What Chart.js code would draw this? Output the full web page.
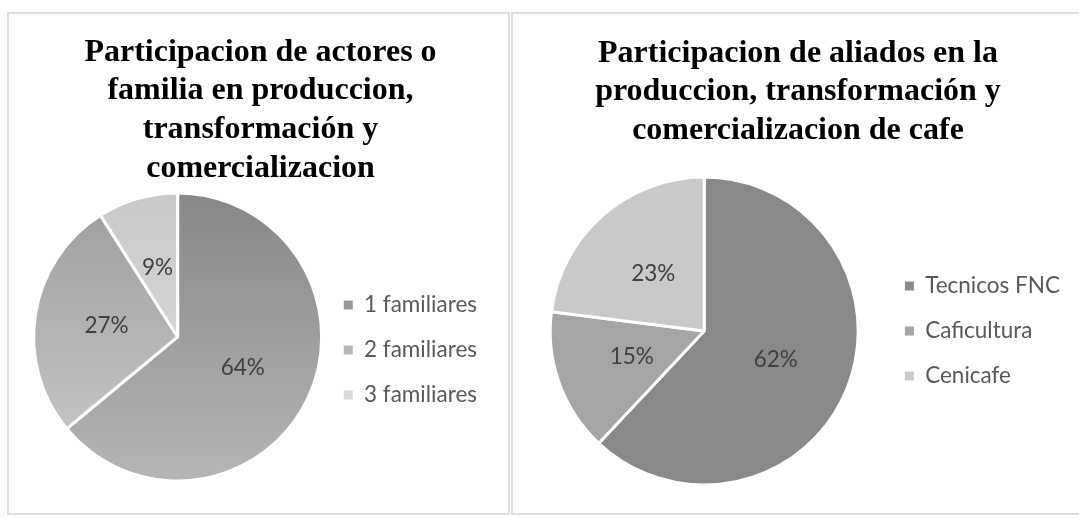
<!DOCTYPE html>
<html>
<head>
<meta charset="utf-8">
<script src="https://cdn.jsdelivr.net/npm/chart.js@4.4.1/dist/chart.umd.min.js"></script>
<style>
  html, body { margin: 0; padding: 0; background: #fff; overflow: hidden; }
  .box { position: absolute; top: 12px; height: 503px; border: 2px solid #dedede; box-sizing: border-box; background: #fff; }
  #leftBox { left: 7px; width: 503px; }
  #rightBox { left: 511px; width: 572px; }
  canvas { display: block; }
</style>
</head>
<body>
<div class="box" id="leftBox"><canvas id="famChart" width="499" height="499"></canvas></div>
<div class="box" id="rightBox"><canvas id="allyChart" width="568" height="499"></canvas></div>
<script>
const famTitle = ["Participacion de actores o", "familia en produccion,", "transformación y", "comercializacion"];
const famLabels = ["1 familiares", "2 familiares", "3 familiares"];
const famValues = [64, 27, 9];

const allyTitle = ["Participacion de aliados en la", "produccion, transformación y", "comercializacion de cafe"];
const allyLabels = ["Tecnicos FNC", "Caficultura", "Cenicafe"];
const allyValues = [62, 15, 23];

// left pie is shaded top to bottom, right one is flat
const famTop = ["#878787", "#9d9d9d", "#c9c9c9"];
const famBottom = ["#b5b5b5", "#cbcbcb", "#e0e0e0"];
const allyFill = ["#898989", "#a5a5a5", "#c9c9c9"];

const labelFont = "Lato, 'Open Sans', sans-serif";
const labelSize = 22.5;

const pctLabels = {
  id: "pctLabels",
  afterDatasetsDraw(chart) {
    const ctx = chart.ctx;
    const values = chart.data.datasets[0].data;
    ctx.save();
    ctx.font = `${labelSize}px ${labelFont}`;
    ctx.fillStyle = "#404040";
    ctx.textAlign = "center";
    ctx.textBaseline = "middle";
    chart.getDatasetMeta(0).data.forEach((arc, i) => {
      const p = arc.tooltipPosition();
      ctx.fillText(values[i] + "%", p.x, p.y);
    });
    ctx.restore();
  }
};

function fadeFill(top, bottom) {
  return (c) => {
    const area = c.chart.chartArea;
    const i = c.dataIndex;
    if (!area) return top[i];
    const g = c.chart.ctx.createLinearGradient(0, area.top, 0, area.bottom);
    g.addColorStop(0, top[i]);
    g.addColorStop(1, bottom[i]);
    return g;
  };
}

function makePie(id, labels, values, title, fill, cfg) {
  return new Chart(document.getElementById(id), {
    type: "pie",
    data: {
      labels,
      datasets: [{
        data: values,
        backgroundColor: fill,
        borderColor: "#ffffff",
        borderWidth: 3,
        radius: cfg.radius
      }]
    },
    options: {
      responsive: false,
      animation: false,
      devicePixelRatio: 1,
      layout: { padding: cfg.padding },
      plugins: {
        tooltip: { enabled: false },
        title: {
          display: true,
          text: title,
          color: "#000000",
          font: { family: "'Liberation Serif', 'Times New Roman', serif", size: 32, weight: "bold", lineHeight: 1.21 },
          padding: cfg.titlePad
        },
        legend: {
          position: "right",
          align: "center",
          fullSize: false,
          title: cfg.legendTitle,
          labels: {
            color: "#595959",
            font: { family: labelFont, size: labelSize },
            boxWidth: 9,
            boxHeight: 9,
            padding: 22.5,
            generateLabels(chart) {
              const items = Chart.overrides.pie.plugins.legend.labels.generateLabels(chart);
              items.forEach((it) => { it.lineWidth = 0; });
              return items;
            }
          }
        }
      }
    },
    plugins: [pctLabels]
  });
}

makePie("famChart", famLabels, famValues, famTitle, fadeFill(famTop, famBottom), {
  radius: 144,
  padding: { left: 25, right: 21, top: 0, bottom: 32 },
  titlePad: { top: 19, bottom: 5 },
  legendTitle: { display: true, text: " ", font: { size: 10 }, padding: 7 }
});

makePie("allyChart", allyLabels, allyValues, allyTitle, allyFill, {
  radius: 154,
  padding: { left: 13, right: 11, top: 0, bottom: 8 },
  titlePad: { top: 20, bottom: 7 },
  legendTitle: { display: false }
});
</script>
</body>
</html>
